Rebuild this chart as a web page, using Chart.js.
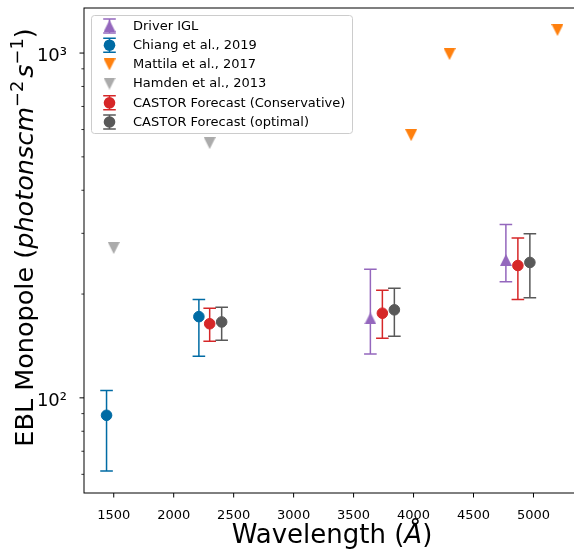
<!DOCTYPE html>
<html><head><meta charset="utf-8">
<script src="https://cdn.jsdelivr.net/npm/chart.js@4"></script>
<style>html,body{margin:0;padding:0;background:#fff;overflow:hidden;width:574px;height:550px}canvas{display:block}</style>
</head><body>
<canvas id="c" width="600" height="550" style="width:600px;height:550px"></canvas>
<script>
// ---- data ----
const driverX = [3640, 4770];
const driverY = [170, 251];
const driverLo = [134, 217];
const driverHi = [236, 318];

const chiangX = [1440, 2210];
const chiangY = [89, 172];
const chiangLo = [61.4, 132];
const chiangHi = [105, 193];

const mattilaX = [3980, 4300, 5200];
const mattilaY = [578, 993, 1166];

const hamdenX = [1500, 2300];
const hamdenY = [272, 548];

const consX = [2300, 3740, 4870];
const consY = [164, 176, 242];
const consLo = [146, 149, 193];
const consHi = [182, 205, 291];

const optX = [2400, 3840, 4970];
const optY = [166, 180, 247];
const optLo = [147, 151, 195];
const optHi = [183, 208, 299];

const seriesNames = ['Driver IGL', 'Chiang et al., 2019', 'Mattila et al., 2017', 'Hamden et al., 2013', 'CASTOR Forecast (Conservative)', 'CASTOR Forecast (optimal)'];
const xTicks = [1500, 2000, 2500, 3000, 3500, 4000, 4500, 5000];
const yMajorTicks = [100, 1000];
const yMajorLabels = ['10²', '10³'];
const yMinorTicks = [60, 70, 80, 90, 200, 300, 400, 500, 600, 700, 800, 900];
const xTitle = ['Wavelength (', 'Å', ')'];
const yTitle = ['EBL Monopole (', 'photonscm', '−2', 's', '−1', ')'];

const FONT = 'DejaVu Sans';
const C_PURPLE = '#9467bd', C_BLUE = '#006ba4', C_ORANGE = '#ff800e', C_LGRAY = '#ababab', C_RED = '#d62728', C_DGRAY = '#595959';

function triCanvas(color, down) {
  const s = 12, c = document.createElement('canvas');
  c.width = s; c.height = s;
  const g = c.getContext('2d');
  g.fillStyle = color; g.beginPath();
  if (down) { g.moveTo(0, 0); g.lineTo(s, 0); g.lineTo(s / 2, s); }
  else { g.moveTo(s / 2, 0); g.lineTo(s, s); g.lineTo(0, s); }
  g.closePath(); g.fill();
  return c;
}
const triPurple = triCanvas(C_PURPLE, false);
const triOrange = triCanvas(C_ORANGE, true);
const triGray = triCanvas(C_LGRAY, true);

const pts = (xs, ys) => xs.map((x, i) => ({ x: x, y: ys[i] }));

function ds(label, xs, ys, color, style, order, lo, hi) {
  const d = {
    label: label, data: pts(xs, ys), showLine: false, order: order,
    backgroundColor: color, borderColor: color,
    pointBackgroundColor: color, pointBorderColor: color,
    pointStyle: style,
    pointRadius: style === 'circle' ? 5.3 : 6,
    pointHoverRadius: style === 'circle' ? 5.3 : 6,
    pointBorderWidth: style === 'circle' ? 1 : 0,
    errColor: color
  };
  if (lo) { d.errorLo = lo; d.errorHi = hi; }
  return d;
}

const datasets = [
  ds(seriesNames[0], driverX, driverY, C_PURPLE, triPurple, 6, driverLo, driverHi),
  ds(seriesNames[1], chiangX, chiangY, C_BLUE, 'circle', 5, chiangLo, chiangHi),
  ds(seriesNames[2], mattilaX, mattilaY, C_ORANGE, triOrange, 4),
  ds(seriesNames[3], hamdenX, hamdenY, C_LGRAY, triGray, 3),
  ds(seriesNames[4], consX, consY, C_RED, 'circle', 2, consLo, consHi),
  ds(seriesNames[5], optX, optY, C_DGRAY, 'circle', 1, optLo, optHi)
];

const errorBars = {
  id: 'errorBars',
  beforeDatasetDraw(chart, args) {
    const d = chart.data.datasets[args.index];
    if (!d.errorLo) return;
    const xs = chart.scales.x, ys = chart.scales.y, ctx = chart.ctx;
    ctx.save();
    ctx.strokeStyle = d.errColor; ctx.lineWidth = 1.5;
    d.data.forEach((p, i) => {
      const px = xs.getPixelForValue(p.x);
      const t = ys.getPixelForValue(d.errorHi[i]);
      const b = ys.getPixelForValue(d.errorLo[i]);
      ctx.beginPath();
      ctx.moveTo(px, t); ctx.lineTo(px, b);
      ctx.moveTo(px - 6.3, t); ctx.lineTo(px + 6.3, t);
      ctx.moveTo(px - 6.3, b); ctx.lineTo(px + 6.3, b);
      ctx.stroke();
    });
    ctx.restore();
  }
};

function drawSegments(ctx, segs, x0, y0) {
  let x = x0;
  segs.forEach(s => {
    ctx.font = s.f;
    x += (s.gap || 0);
    ctx.fillText(s.t, x, y0 + (s.dy || 0));
    x += ctx.measureText(s.t).width;
  });
  return x - x0;
}
function segWidth(ctx, segs) {
  let w = 0;
  segs.forEach(s => { ctx.font = s.f; w += (s.gap || 0) + ctx.measureText(s.t).width; });
  return w;
}

const frameAndTitles = {
  id: 'frameAndTitles',
  afterDraw(chart) {
    const ctx = chart.ctx, a = chart.chartArea, xs = chart.scales.x, ys = chart.scales.y;
    ctx.save();
    ctx.strokeStyle = '#000'; ctx.lineWidth = 1;
    ctx.strokeRect(a.left, a.top, a.right - a.left, a.bottom - a.top);
    // ticks
    ctx.beginPath();
    xTicks.forEach(v => { const p = xs.getPixelForValue(v); ctx.moveTo(p, a.bottom); ctx.lineTo(p, a.bottom + 4.5); });
    yMajorTicks.forEach(v => { const p = ys.getPixelForValue(v); ctx.moveTo(a.left - 4.5, p); ctx.lineTo(a.left, p); });
    ctx.stroke();
    ctx.beginPath(); ctx.lineWidth = 0.8;
    yMinorTicks.forEach(v => { const p = ys.getPixelForValue(v); ctx.moveTo(a.left - 2.6, p); ctx.lineTo(a.left, p); });
    ctx.stroke();
    // x title
    ctx.fillStyle = '#000'; ctx.textBaseline = 'alphabetic'; ctx.textAlign = 'left';
    const xsegs = [
      { t: xTitle[0], f: '26px "' + FONT + '"' },
      { t: xTitle[1], f: 'italic 26px "' + FONT + '"' },
      { t: xTitle[2], f: '26px "' + FONT + '"' }
    ];
    const cx = (a.left + a.right) / 2;
    const xw = segWidth(ctx, xsegs);
    drawSegments(ctx, xsegs, cx - xw / 2, 543);
    // y title
    const ysegs = [
      { t: yTitle[0], f: '25.5px "' + FONT + '"' },
      { t: yTitle[1], f: 'italic 25.5px "' + FONT + '"' },
      { t: yTitle[2], f: '17.8px "' + FONT + '"', dy: -10 },
      { t: yTitle[3], f: 'italic 25.5px "' + FONT + '"', gap: 3 },
      { t: yTitle[4], f: '17.8px "' + FONT + '"', dy: -10 },
      { t: yTitle[5], f: '25.5px "' + FONT + '"' }
    ];
    const yw = segWidth(ctx, ysegs);
    const cy = (a.top + a.bottom) / 2 - 13;
    ctx.translate(33, cy);
    ctx.rotate(-Math.PI / 2);
    drawSegments(ctx, ysegs, -yw / 2, 0);
    ctx.restore();
  }
};

const customLegend = {
  id: 'customLegend',
  afterDraw(chart) {
    const ctx = chart.ctx;
    ctx.save();
    const bx = 91.5, by = 15.5, bw = 261, bh = 118, r = 3;
    ctx.beginPath();
    ctx.moveTo(bx + r, by); ctx.lineTo(bx + bw - r, by); ctx.arcTo(bx + bw, by, bx + bw, by + r, r);
    ctx.lineTo(bx + bw, by + bh - r); ctx.arcTo(bx + bw, by + bh, bx + bw - r, by + bh, r);
    ctx.lineTo(bx + r, by + bh); ctx.arcTo(bx, by + bh, bx, by + bh - r, r);
    ctx.lineTo(bx, by + r); ctx.arcTo(bx, by, bx + r, by, r); ctx.closePath();
    ctx.fillStyle = 'rgba(255,255,255,0.8)'; ctx.fill();
    ctx.strokeStyle = '#cccccc'; ctx.lineWidth = 1; ctx.stroke();
    const mx = 109.5, tx = 133;
    chart.data.datasets.forEach((d, i) => {
      const y = 26 + i * 19.2;
      if (d.errorLo) {
        ctx.strokeStyle = d.errColor; ctx.lineWidth = 1.5;
        ctx.beginPath();
        ctx.moveTo(mx, y - 7); ctx.lineTo(mx, y + 7);
        ctx.moveTo(mx - 6.3, y - 7); ctx.lineTo(mx + 6.3, y - 7);
        ctx.moveTo(mx - 6.3, y + 7); ctx.lineTo(mx + 6.3, y + 7);
        ctx.stroke();
      }
      if (d.pointStyle === 'circle') {
        ctx.fillStyle = d.errColor; ctx.beginPath(); ctx.arc(mx, y, 5.8, 0, Math.PI * 2); ctx.fill();
      } else {
        ctx.drawImage(d.pointStyle, mx - 6, y - 6, 12, 12);
      }
      ctx.fillStyle = '#000'; ctx.font = '13px "' + FONT + '"';
      ctx.textBaseline = 'middle'; ctx.textAlign = 'left';
      ctx.fillText(d.label, tx, y + 0.5);
    });
    ctx.restore();
  }
};

function noPad(s) { s.paddingTop = 0; s.paddingBottom = 0; s.paddingLeft = 0; s.paddingRight = 0; }

new Chart(document.getElementById('c'), {
  type: 'scatter',
  data: { datasets: datasets },
  options: {
    responsive: false, animation: false,
    layout: { padding: { left: 0, top: 8, right: 20, bottom: 0 } },
    plugins: { legend: { display: false }, tooltip: { enabled: false } },
    scales: {
      x: {
        type: 'linear', min: 1252, max: 5388,
        grid: { display: false }, border: { display: false },
        afterBuildTicks: s => { s.ticks = xTicks.map(v => ({ value: v })); },
        afterFit: s => { s.height = 57; noPad(s); },
        ticks: { autoSkip: false, maxRotation: 0, padding: 7, color: '#000', font: { family: FONT, size: 13 }, callback: v => String(v) }
      },
      y: {
        type: 'logarithmic', min: 52.97, max: 1351,
        grid: { display: false }, border: { display: false },
        afterBuildTicks: s => { s.ticks = yMajorTicks.map(v => ({ value: v, major: true })); },
        afterFit: s => { s.width = 84; noPad(s); },
        ticks: { autoSkip: false, padding: 9, labelOffset: 3, color: '#000', font: { family: FONT, size: 18 },
          callback: v => { const i = yMajorTicks.indexOf(v); return i >= 0 ? yMajorLabels[i] : ''; } }
      }
    }
  },
  plugins: [errorBars, frameAndTitles, customLegend]
});
</script>
</body></html>
